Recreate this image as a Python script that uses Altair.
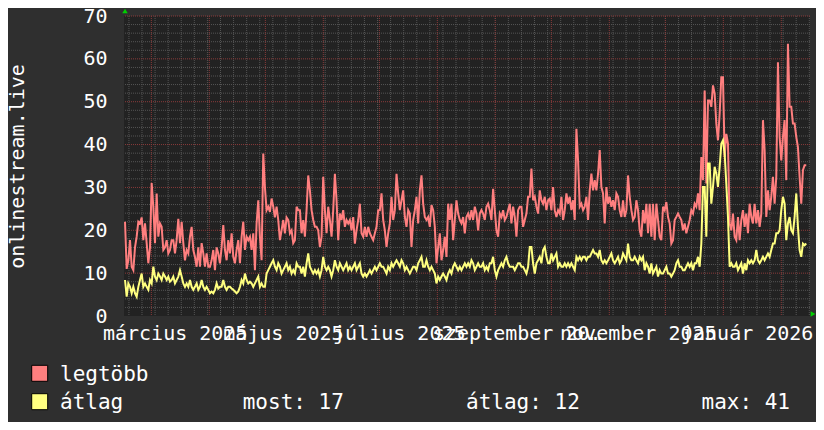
import altair as alt
import pandas as pd

# ---------------- data ----------------
LEGTOBB = [
    22, 11, 13, 17.7, 11.5, 10.7, 16, 18.5, 22, 21.6, 23, 17.7, 21.6, 17, 12.3, 16, 31, 25.5, 17, 28.6,
    18.5, 21.6, 20.8, 15.4, 16, 17.7, 14.6, 15.4, 17.7, 17.7, 14.6, 17.7, 22.7, 17, 22, 17, 13, 15.4, 14.6, 18.5,
    20.8, 15.4, 13.8, 11.5, 16, 11.5, 17, 14.6, 11.5, 14.6, 11.5, 11.5, 13, 15.4, 10.7, 16, 14.6, 12.3, 16, 21.2,
    15.4, 13, 17.7, 14.6, 19.3, 13.8, 12.3, 15.4, 17.7, 12.3, 18.5, 22, 15.4, 18.5, 17.7, 18.5, 15.4, 19.3, 10.7, 21.6,
    27, 18.5, 13, 37.9, 30, 24.7, 25.5, 24.3, 27.4, 25.5, 23, 25.5, 22.4, 17.7, 20, 22.4, 19.3, 23, 22.4, 19.3,
    20, 17, 17.7, 25.5, 24.7,
    24.7, 19.3, 22.4, 18.5, 24.7, 32.8, 29.3, 24.7, 22.4, 20.8, 20.8, 20, 16.1, 18.5, 32.5, 24.7, 19.3, 25.5, 22.4, 18.5,
    24.7, 33.2, 27, 17.7, 23.9, 22.4, 24.7, 20.8, 22.4, 21.6, 22.4, 20, 23.1, 16.9, 20, 22.4, 26.2, 19.3, 18.5, 20.8,
    18.5, 20.8, 19.3, 18.5, 17.7, 19.3, 20.8, 24.7, 24.7, 28.6, 22.4, 20, 16.1, 19.3, 21.6, 27.8, 22.4, 24.7, 33.2, 28.6,
    24.7, 27, 29.3, 23.1, 20.8, 24.7, 23.9, 16.1, 22.4, 24.7, 27.8, 21.6, 29.3, 32.8, 26.2, 23.1, 22.4, 23.1, 20.8, 25.9,
    24.7, 20.8, 12.3, 16.1, 19.3, 13, 15.4, 18.5, 13.8, 26.2, 22.4, 26.2, 17.7, 22.4, 27, 23.9, 22.4, 21.6, 23.1, 19.3,
    23.1, 23.9, 22.4, 24.7, 22.4,
    25.5, 23.9, 20, 23.9, 24.7, 23.9, 22.4, 25.5, 26.2, 24.7, 22.4, 29.7, 24.7, 20, 18.5, 23.9, 23.1, 24.7, 22.4, 23.1,
    24.7, 26.2, 21.6, 25.5, 23.1, 18.5, 24.7, 25.5, 25.5, 20.8, 22.4, 23.9, 27.8, 27.8, 34.4, 27, 27.8, 25.5, 23.9, 29.3,
    27, 26.2, 27.8, 24.7, 27, 27.4, 24.7, 30.1, 24.7, 23.1, 24.7, 23.9, 27.8, 22.4, 24.7, 28.6, 26.2, 27.8, 24.7, 27,
    22.4, 43.7, 36.3, 25.5, 26.2, 24.7, 25.5, 27.8, 22.4, 29.3, 33.2, 29.3, 31.7, 29.3, 33.2, 38.7, 30.1, 28.6, 21.6, 30.1,
    26.2, 27.8, 25.5, 27, 24.7, 28.6, 27.8, 24.7, 23.1, 27, 23.1, 24.7, 32.8, 27.8, 24.7, 22.4, 23.1, 27, 24.7, 20,
    18.5, 24.7,
    21.6, 26.2, 19.3, 26.2, 18.5, 26.2, 17.7, 26.2, 22.4, 18.5, 17.7, 25.5, 24.7, 26.6, 23.1, 21.6, 16.9, 17.7, 22.4, 23.1,
    23.9, 23.1, 22.4, 20, 21.6, 19.3, 20.8, 22.4, 24.7, 23.9, 26.2, 25.5, 28.6, 24.7, 37.1, 31.7, 52.6, 30.9, 50.3, 50.3,
    48.8, 53.8, 51.9, 44.9, 41, 47.2, 55.7, 55.7, 37.1, 42.5, 40.2, 21.6, 20, 23.9, 18.5, 17.7, 23.1, 17.7, 22.4, 24.7,
    20.8, 23.9, 19.3, 26.2, 23.1, 21.6, 26.2, 21.6, 24.7, 20.8, 23.9, 45.7, 38.7, 23.1, 29.3, 24.7, 27.8, 32.5, 26.2, 32.5,
    59.2, 41.8, 36.3, 41.8, 45.7, 31.7, 63.5, 48.8, 48.8, 44.9, 44.9, 41.8, 39.4, 32.5, 26.2, 34, 35.2, 35.2,
]

ATLAG = [
    8.4, 4.5, 7.6, 6.8, 5.3, 6.8, 5.3, 4.5, 6.8, 8.4, 9.9, 6.8, 7.6, 6.8, 6.1, 8.4, 7.6, 11.5, 9.2, 8.4,
    9.9, 9.2, 8.4, 9.9, 9.2, 8.4, 9.2, 8.0, 8.4, 9.2, 7.6, 8.4, 9.2, 10.7, 9.2, 7.6, 6.8, 7.6, 6.8, 8.4,
    6.8, 6.1, 6.8, 7.6, 6.1, 6.8, 8.4, 6.8, 6.1, 6.8, 6.1, 5.3, 5.7, 5.3, 6.1, 7.6, 6.4, 6.8, 6.8, 8.4,
    6.8, 6.1, 6.8, 6.8, 6.4, 6.1, 5.7, 5.3, 5.7, 6.8, 8.4, 7.6, 9.9, 8.4, 7.6, 8.0, 7.6, 6.8, 7.6, 8.4,
    9.2, 6.8, 7.6, 6.8, 6.8, 9.9, 10.7, 11.5, 12.3, 13.0, 11.5, 10.7, 12.3, 11.5, 9.9, 10.7, 11.5, 12.3, 10.7, 11.5,
    9.9, 10.7, 9.9, 12.3, 11.5,
    11.5, 9.9, 11.5, 9.2, 12.3, 14.6, 11.5, 10.7, 9.9, 10.7, 9.9, 10.7, 9.2, 10.7, 13.8, 11.5, 10.7, 11.5, 10.7, 9.2,
    10.7, 13.0, 11.5, 10.7, 12.3, 11.5, 10.7, 11.5, 12.3, 10.7, 11.5, 10.7, 11.5, 12.3, 10.7, 11.5, 12.3, 9.9, 9.2, 9.9,
    9.2, 9.9, 10.7, 9.9, 10.7, 11.5, 10.7, 11.5, 12.3, 11.5, 11.5, 10.7, 9.9, 11.5, 10.7, 12.3, 11.5, 12.3, 13.0, 12.3,
    11.5, 13.0, 12.3, 10.7, 11.5, 10.7, 9.9, 10.7, 11.5, 11.5, 10.7, 12.3, 13.0, 13.8, 11.5, 11.5, 13.0, 11.5, 10.7, 11.5,
    10.7, 9.9, 7.6, 9.2, 8.4, 9.2, 9.9, 9.2, 8.4, 9.9, 10.7, 9.9, 11.5, 12.3, 11.5, 10.7, 11.5, 10.7, 11.5, 12.3,
    11.5, 12.3, 11.5, 13.0, 12.3,
    10.7, 11.5, 12.3, 11.5, 11.5, 12.3, 10.7, 11.5, 10.7, 12.3, 12.3, 13.8, 10.7, 9.2, 10.7, 11.5, 12.3, 11.5, 13.0, 13.8,
    12.3, 11.5, 11.5, 11.5, 10.7, 11.5, 12.3, 12.3, 11.5, 11.5, 10.7, 9.9, 11.5, 16.1, 16.1, 12.3, 9.9, 12.3, 13.0, 13.8,
    12.3, 15.4, 16.1, 13.8, 12.3, 12.3, 14.6, 13.0, 13.8, 14.6, 11.5, 12.3, 11.5, 11.5, 12.3, 11.5, 12.3, 11.5, 12.3, 11.5,
    10.7, 13.8, 13.0, 13.8, 13.0, 13.8, 13.8, 13.0, 13.8, 13.8, 14.6, 15.4, 14.6, 14.6, 13.8, 15.4, 13.0, 12.3, 13.0, 12.3,
    13.0, 13.8, 14.6, 13.0, 12.3, 13.0, 13.8, 12.3, 13.0, 14.6, 13.8, 13.0, 16.9, 13.8, 13.0, 13.0, 13.8, 13.0, 12.3, 13.8,
    13.0, 13.8,
    10.7, 12.3, 11.5, 9.9, 12.3, 9.9, 10.7, 11.5, 9.2, 10.7, 9.9, 9.9, 10.7, 11.5, 9.9, 9.9, 9.2, 9.9, 10.7, 12.3,
    13.0, 11.5, 11.5, 10.7, 10.7, 11.5, 12.3, 11.5, 12.3, 10.7, 12.3, 12.3, 13.8, 11.5, 16.9, 30.1, 30.1, 18.5, 35.6, 35.6,
    26.2, 30.1, 34.8, 33.2, 30.1, 34.8, 40.2, 41, 37.9, 30.9, 23.1, 11.5, 12.3, 11.5, 11.5, 12.3, 10.7, 11.5, 12.3, 9.9,
    12.3, 10.7, 13.0, 12.3, 13.0, 12.3, 13.0, 15.4, 13.0, 12.3, 13.0, 13.8, 13.0, 13.8, 14.6, 13.8, 15.4, 16.9, 16.9, 19.3,
    19.3, 20.0, 24.7, 27.8, 26.2, 17.7, 21.6, 23.1, 20.0, 19.3, 23.1, 28.6, 20.8, 15.4, 13.8, 16.9, 16.5, 16.9,
]

SERIES_NAMES = ["legtöbb", "átlag"]
SERIES_COLORS = ["#ff7f7f", "#ffff80"]
FIRST_SAMPLE = "2025-02-14 22:00"
LAST_SAMPLE = "2026-02-14 09:00"

MONTH_LABELS = [("03", "március 2025"), ("05", "május 2025"), ("07", "július 2025"),
                ("09", "szeptember 2025"), ("11", "november 2025"), ("01", "január 2026")]
LABEL_TIMES = [(2025, 3, 13, 12), (2025, 5, 10, 9), (2025, 7, 11, 9),
               (2025, 9, 12, 12), (2025, 11, 16, 6), (2026, 1, 13, 12)]
Y_TICKS = [0, 10, 20, 30, 40, 50, 60, 70]
STATS = ["most: 17", "átlag: 12", "max: 41"]
Y_TITLE = "onlinestream.live"

# ---------------- styling ----------------
FONT = "DejaVu Sans Mono"
BG = "#2f2f2f"
PLOT_BG = "#222222"
MINOR_GRID = "#555555"
MAJOR_GRID = "#8a3a3a"
W, H = 686, 300

t_red = pd.date_range(FIRST_SAMPLE, LAST_SAMPLE, periods=len(LEGTOBB))
t_yel = pd.date_range(FIRST_SAMPLE, LAST_SAMPLE, periods=len(ATLAG))
df = pd.concat([
    pd.DataFrame({"t": t_red, "v": LEGTOBB, "s": SERIES_NAMES[0]}),
    pd.DataFrame({"t": t_yel, "v": ATLAG, "s": SERIES_NAMES[1]}),
], ignore_index=True)

minor_y = pd.DataFrame({"y": [v for v in range(2, 70, 2) if v % 10]})
major_y = pd.DataFrame({"y": list(range(10, 71, 10))})
week_x = pd.DataFrame({"t": pd.date_range("2025-02-17", "2026-02-16", freq="7D")})
month_x = pd.DataFrame({"t": pd.date_range("2025-03-01", "2026-02-01", freq="MS")})
one = pd.DataFrame({"k": [0]})

xs = alt.Scale(domain=[alt.DateTime(year=2025, month=2, date=14, hours=9),
                       alt.DateTime(year=2026, month=2, date=16, hours=9)], nice=False)
ys = alt.Scale(domain=[0, 70], nice=False, zero=True)
cs = alt.Scale(domain=SERIES_NAMES, range=SERIES_COLORS)

label_expr = "".join(f"timeFormat(datum.value, '%m') == '{k}' ? '{v}' : " for k, v in MONTH_LABELS) + "''"
XAXIS = alt.Axis(
    values=[alt.DateTime(year=y, month=m, date=d, hours=h) for (y, m, d, h) in LABEL_TIMES],
    labelExpr=label_expr, tickSize=0, domain=False, grid=False, title=None,
    labelFont=FONT, labelFontSize=20, labelColor="white", labelPadding=7,
    labelOverlap=False, labelBound=False, labelFlush=False, labelAlign="center",
)
YAXIS = alt.Axis(
    values=Y_TICKS, tickSize=0, domain=False, grid=False,
    labelFont=FONT, labelFontSize=20, labelColor="white", labelPadding=17,
    title=Y_TITLE, titleFont=FONT, titleFontSize=20, titleFontWeight="normal",
    titleColor="white", titleAngle=270, titleX=-101, titleY=150,
    titleAlign="center", titleBaseline="alphabetic",
)


def hrule(data, c):
    return alt.Chart(data).mark_rule(color=c, strokeDash=[1, 1], strokeWidth=1).encode(
        y=alt.Y("y:Q", scale=ys, axis=YAXIS))


def vrule(data, c):
    return alt.Chart(data).mark_rule(color=c, strokeDash=[1, 1], strokeWidth=1).encode(
        x=alt.X("t:T", scale=xs, axis=XAXIS))


def line(name):
    return alt.Chart(df).transform_filter(alt.datum.s == name).mark_line(strokeWidth=2).encode(
        x=alt.X("t:T", scale=xs, axis=XAXIS),
        y=alt.Y("v:Q", scale=ys, axis=YAXIS),
        color=alt.Color("s:N", scale=cs, legend=None),
    )


def swatch(col, y):
    return alt.Chart(one).mark_square(size=256, filled=True, color=col, stroke="#000000",
                                      strokeWidth=1, opacity=1).encode(x=alt.value(-84.3), y=alt.value(y))


def txt(t, x, y):
    return alt.Chart(one).mark_text(text=t, align="left", baseline="alphabetic", font=FONT,
                                    fontSize=21, color="white").encode(x=alt.value(x), y=alt.value(y))


arrow_up = alt.Chart(one).mark_point(shape="triangle-up", filled=True, color="#00d000",
                                     size=30, opacity=1).encode(x=alt.value(1), y=alt.value(-5))
arrow_right = alt.Chart(one).mark_point(shape="triangle-right", filled=True, color="#00d000",
                                        size=30, opacity=1).encode(x=alt.value(689), y=alt.value(298))

chart = alt.layer(
    hrule(minor_y, MINOR_GRID),
    vrule(week_x, MINOR_GRID),
    hrule(major_y, MAJOR_GRID),
    vrule(month_x, MAJOR_GRID),
    line(SERIES_NAMES[0]),
    line(SERIES_NAMES[1]),
    arrow_up, arrow_right,
    swatch(SERIES_COLORS[0], 357.3), swatch(SERIES_COLORS[1], 385.7),
    txt(SERIES_NAMES[0], -64, 364.7), txt(SERIES_NAMES[1], -64, 393),
    txt(STATS[0], 118.7, 393), txt(STATS[1], 342, 393), txt(STATS[2], 577.5, 393),
).properties(
    width=W, height=H,
    padding={"left": 116, "top": 8, "right": 6, "bottom": 106},
    autosize=alt.AutoSizeParams(type="none"),
    background=BG,
).configure_view(fill=PLOT_BG, strokeWidth=0)

chart.save("out.html", embed_options={"renderer": "svg", "actions": False})
